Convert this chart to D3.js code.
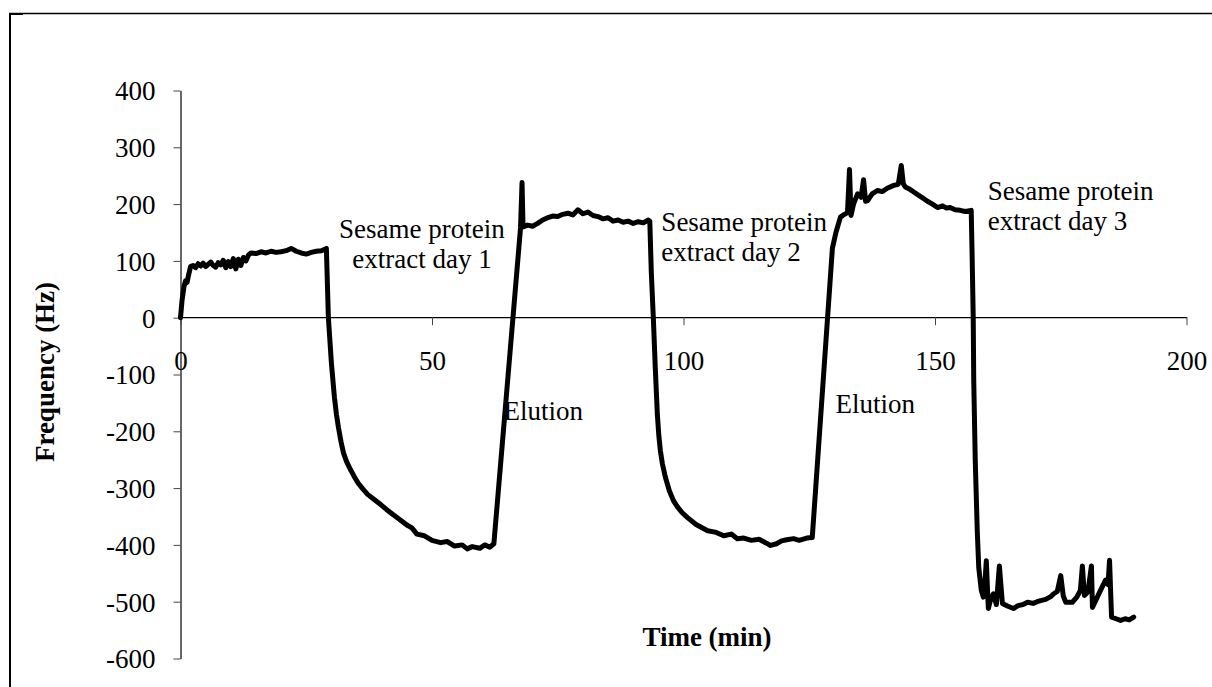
<!DOCTYPE html>
<html>
<head>
<meta charset="utf-8">
<script src="https://cdn.jsdelivr.net/npm/d3@7"></script>
<style>
  body { margin: 0; background: #fff; }
  svg { display: block; }
  text { font-family: "Liberation Serif", "Times New Roman", serif; fill: #000; }
</style>
</head>
<body>
<div class="graph"></div>
<script>
var width = 1212,
    height = 687;

// time (min) and frequency (Hz)
var timeMin = [
  0, 0.3, 0.7, 1.0, 1.3, 1.6, 2.0, 2.5, 3, 3.5, 4, 4.5, 5, 5.5, 6, 6.5, 7, 7.5, 8, 8.5,
  9, 9.5, 10, 10.5, 11, 11.5, 12, 12.5, 13, 13.5, 14, 15, 16, 17, 18, 19, 20, 21, 22, 23,
  24, 25, 26, 27, 28, 29,
  29.4, 30.0, 30.6, 31.0, 31.4, 31.9, 32.4, 33.0, 33.7, 34.5, 35.3, 36.2, 37.2, 38.5, 39.8,
  41.0, 42.3, 43.7, 45, 46, 47, 48.5, 50,
  51.7, 53, 54.5, 56, 57, 58, 59.5, 60.5, 61.5, 62.3,
  67.6, 67.9, 68.1, 69, 70, 71, 72, 73, 74, 75, 76, 77, 78, 79, 80, 81, 82, 83, 84, 85,
  86, 87, 88, 89, 90, 91, 92, 93, 93.3,
  93.6, 94, 94.4, 94.8, 95.1, 95.4, 95.8, 96.4, 97.2, 98, 98.8, 99.7, 100.8, 102.5, 104.8,
  106.5, 108, 109.5,
  110.7, 112, 113.5, 115, 116.5, 117.3, 118.5, 119.5, 120.5, 121.9, 123, 124.5, 125.6,
  129.6, 130.3, 131.2, 132, 132.6, 133, 133.3, 133.8, 134.6, 135.3, 135.8, 136.2, 136.6,
  137.5, 138.6, 139.5, 140.5, 141.8, 142.7, 143.3, 143.7, 144.1, 145, 146, 147, 147.7,
  148.5, 149.5, 150.5, 151.5, 152.3, 153, 154, 155, 156, 157.2,
  157.4, 157.6, 157.7, 158.0, 158.4, 158.7, 159.2, 159.6, 159.9, 160.2, 160.6, 161.1,
  161.6, 162.2, 162.8, 163.4, 164.5, 165.6, 166.5, 167.5, 168.4, 169.5, 170.3, 171, 172,
  173, 173.6, 174.3, 175, 175.5, 176, 177.3, 178.2, 178.9, 179.3, 179.7, 180.4, 181.1,
  181.3, 182.1, 182.9, 183.9, 184.4, 184.7, 185.1, 186, 186.9, 187.8, 188.6, 189.5
];

var freqHz = [
  0, 30, 55, 65, 62, 75, 90, 92, 88, 95, 91, 96, 90, 94, 98, 92, 89, 97, 93, 101,
  88, 99, 90, 104, 86, 103, 92, 106, 100, 110, 114, 113, 116, 114, 117, 115, 116, 118, 122, 117,
  114, 112, 115, 117, 118, 122,
  0, -80, -140, -170, -193, -218, -238, -253, -266, -279, -291, -301, -311, -320, -329,
  -338, -347, -356, -365, -370, -381, -384, -392,
  -396, -394, -402, -400, -407, -403, -406, -400, -404, -398,
  158, 238, 160, 163, 161, 166, 172, 176, 179, 178, 182, 184, 181, 190, 183, 186, 180, 178, 174, 176,
  170, 172, 168, 170, 166, 169, 167, 172, 170,
  80, 0, -90, -170, -208, -234, -257, -281, -305, -322, -333, -343, -352, -364, -375,
  -378, -384, -381,
  -389, -388, -392, -390, -397, -401, -398, -393, -391, -389, -392, -388, -387,
  122, 150, 177, 182, 185, 261, 180, 200, 218, 212, 243, 205, 206,
  218, 224, 222, 228, 233, 235, 268, 236, 230, 226, 220, 214, 210,
  205, 200, 194, 197, 193, 194, 190, 189, 187, 189,
  100, 0, -110, -250, -375, -440, -480, -492, -470, -428, -512, -495,
  -486, -505, -437, -503, -508, -512, -507, -505, -501, -503, -500, -498, -496,
  -491, -486, -482, -454, -490, -501, -501, -492, -480, -437, -489, -483, -437,
  -510, -495, -480, -462, -470, -427, -527, -530, -533, -530, -532, -527
];

var xTicks = [0, 50, 100, 150, 200];
var yTicks = [400, 300, 200, 100, 0, -100, -200, -300, -400, -500, -600];

var notes = [
  { lines: ["Sesame protein", "extract day 1"], t: 48, f: 140, anchor: "middle" },
  { lines: ["Elution"], t: 64.2, f: -180, anchor: "start" },
  { lines: ["Sesame protein", "extract day 2"], t: 95.6, f: 153, anchor: "start" },
  { lines: ["Elution"], t: 130.2, f: -168, anchor: "start" },
  { lines: ["Sesame protein", "extract day 3"], t: 160.5, f: 207, anchor: "start" }
];

var svg = d3.select(".graph").append("svg")
    .attr("width", width)
    .attr("height", height);

// outer frame (only top and left edges show)
svg.append("line")
    .attr("x1", 9).attr("y1", 13.5).attr("x2", width).attr("y2", 13.5)
    .attr("stroke", "#000").attr("stroke-width", 1.5);
svg.append("line")
    .attr("x1", 10).attr("y1", 13).attr("x2", 10).attr("y2", height)
    .attr("stroke", "#000").attr("stroke-width", 2);
svg.append("line")
    .attr("x1", 9).attr("y1", 14).attr("x2", 23).attr("y2", 14)
    .attr("stroke", "#000").attr("stroke-width", 2);

var x = d3.scaleLinear().domain([0, 200]).range([180.5, 1186.5]);
var y = d3.scaleLinear().domain([-600, 400]).range([658.5, 90.5]);

// plain hyphen minus like the original
var fmt = function(d) { return String(d); };

// y axis
var yAxis = svg.append("g")
    .attr("transform", "translate(" + x(0) + ",0)")
    .call(d3.axisLeft(y).tickValues(yTicks).tickFormat(fmt)
      .tickSize(7).tickSizeOuter(0).tickPadding(18));
yAxis.selectAll("text")
    .style("font-family", "Liberation Serif")
    .style("font-size", "27px")
    .attr("dy", "0.35em");

// x axis sits on zero
var xAxis = svg.append("g")
    .attr("transform", "translate(0," + (y(0) - 0.5) + ")")
    .call(d3.axisBottom(x).tickValues(xTicks).tickFormat(fmt)
      .tickSize(8).tickSizeOuter(0));
xAxis.selectAll("text")
    .style("font-family", "Liberation Serif")
    .style("font-size", "27px")
    .attr("y", 53)
    .attr("dy", 0);

svg.selectAll(".domain").attr("stroke", "#000").attr("stroke-width", 1.2);
svg.selectAll(".tick line").attr("stroke", "#444");
svg.selectAll(".tick text").attr("fill", "#000");

// trace
var pts = d3.zip(timeMin, freqHz);
var line = d3.line()
    .x(function(d) { return x(d[0]); })
    .y(function(d) { return y(d[1]); });

svg.append("path")
    .datum(pts)
    .attr("fill", "none")
    .attr("stroke", "#000")
    .attr("stroke-width", 5)
    .attr("stroke-linejoin", "round")
    .attr("stroke-linecap", "round")
    .attr("d", line);

// annotations
notes.forEach(function(n) {
  var t = svg.append("text")
      .attr("x", x(n.t))
      .attr("y", y(n.f))
      .attr("text-anchor", n.anchor)
      .style("font-size", "27px");
  n.lines.forEach(function(s, i) {
    t.append("tspan")
        .attr("x", x(n.t))
        .attr("dy", i === 0 ? 0 : 30)
        .text(s);
  });
});

// axis titles
svg.append("text")
    .attr("transform", "translate(54,372) rotate(-90)")
    .attr("text-anchor", "middle")
    .style("font-size", "27px")
    .style("font-weight", "bold")
    .text("Frequency (Hz)");

svg.append("text")
    .attr("x", 707)
    .attr("y", 646)
    .attr("text-anchor", "middle")
    .style("font-size", "27px")
    .style("font-weight", "bold")
    .text("Time (min)");
</script>
</body>
</html>
